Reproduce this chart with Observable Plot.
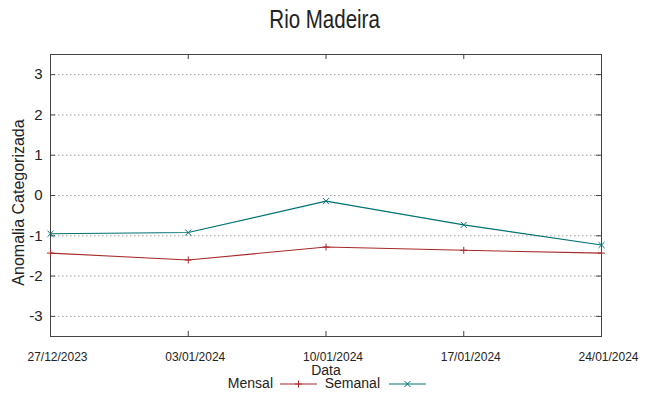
<!DOCTYPE html>
<html><head><meta charset="utf-8">
<script src="https://cdn.jsdelivr.net/npm/d3@7"></script>
<script src="https://cdn.jsdelivr.net/npm/@observablehq/plot@0.6"></script>
<style>
body{margin:0;background:#fff;}
#wrap{position:relative;width:649px;height:396px;font-family:"Liberation Sans",Arial,sans-serif;color:#222;overflow:hidden;}
#title{position:absolute;left:0;top:7px;width:649px;text-align:center;font-size:25px;line-height:25px;transform:scaleX(0.82);transform-origin:325px 0;}
#chart{position:absolute;left:0;top:40px;}
.leg{position:absolute;top:375px;font-size:14px;line-height:16px;white-space:nowrap;}
.sw{position:absolute;top:379px;}
</style></head>
<body><div id="wrap"><div id="title">Rio Madeira</div><div id="chart"></div></div>
<script>
const dates = ["2023-12-27","2024-01-03","2024-01-10","2024-01-17","2024-01-24"];
const mensal = [-1.43,-1.60,-1.28,-1.36,-1.43];
const semanal = [-0.95,-0.92,-0.14,-0.73,-1.23];
const yTicks = [-3,-2,-1,0,1,2,3];
const seriesNames = ["Mensal","Semanal"];
const seriesColors = ["#a82828","#007272"];
const seriesSymbols = ["plus","times"];

const dateObjs = dates.map(d => new Date(d + "T00:00:00Z"));
const fmt = d3.utcFormat("%d/%m/%Y");
const rows = [];
[mensal, semanal].forEach((vals, s) => vals.forEach((v, i) => rows.push({date: dateObjs[i], value: v, series: seriesNames[s]})));

const W = 649, H = 356, mL = 50, mR = 48, mT = 14, mB = 60;
const pw = W - mL - mR, ph = H - mT - mB;
const fg = "#444";

const marks = [
  Plot.ruleY(yTicks, {y: d => d, stroke: "#9a9a9a", strokeDasharray: "1.5,2.5"}),
  Plot.frame({stroke: fg}),
  Plot.tickX(dateObjs, {x: d => d, stroke: fg, insetTop: ph - 5}),
  Plot.tickX(dateObjs, {x: d => d, stroke: fg, insetBottom: ph - 5}),
  Plot.tickY(yTicks, {y: d => d, stroke: fg, insetLeft: pw - 5}),
  Plot.tickY(yTicks, {y: d => d, stroke: fg, insetRight: pw - 5}),
  Plot.axisX({ticks: dateObjs, tickFormat: fmt, tickSize: 0, tickPadding: 16, fontSize: 12, dx: 7, label: null}),
  Plot.axisY({ticks: yTicks, tickFormat: d => String(d), tickSize: 0, tickPadding: 8, fontSize: 15, label: null}),
  Plot.text(["Anomalia Categorizada"], {frameAnchor: "left", textAnchor: "middle", lineAnchor: "middle", rotate: -90, dx: -31.5, dy: 7, fontSize: 16, fill: "#222"}),
  Plot.text(["Data"], {frameAnchor: "bottom", textAnchor: "middle", lineAnchor: "middle", dy: 34, fontSize: 14, fill: "#222"})
];
seriesNames.forEach((name, s) => {
  const data = rows.filter(r => r.series === name);
  marks.push(Plot.line(data, {x: "date", y: "value", stroke: seriesColors[s], strokeWidth: 1.1}));
  marks.push(Plot.dot(data, {x: "date", y: "value", stroke: seriesColors[s], symbol: seriesSymbols[s], r: s === 0 ? 2.4 : 2.85, strokeWidth: 1}));
});

const chart = Plot.plot({
  width: W, height: H, marginLeft: mL, marginRight: mR, marginTop: mT, marginBottom: mB,
  style: {fontFamily: "'Liberation Sans', Arial, sans-serif", color: "#222", background: "white"},
  x: {type: "utc", domain: [dateObjs[0], dateObjs[dateObjs.length - 1]]},
  y: {domain: [-3.5, 3.5]},
  marks
});
document.getElementById("chart").appendChild(chart);

// legend
const wrap = document.getElementById("wrap");
const legendLayout = [{textRight: 273, lineX: 280}, {textRight: 380, lineX: 389}];
seriesNames.forEach((name, s) => {
  const t = document.createElement("div");
  t.className = "leg";
  t.style.right = (W - legendLayout[s].textRight) + "px";
  t.textContent = name;
  wrap.appendChild(t);
  const sym = d3.symbol(s === 0 ? d3.symbolPlus : d3.symbolTimes, s === 0 ? 18 : 25.5);
  const svg = d3.create("svg").attr("class", "sw").attr("width", 37).attr("height", 10)
    .style("left", legendLayout[s].lineX + "px");
  svg.append("line").attr("x1", 0).attr("x2", 37).attr("y1", 5).attr("y2", 5).attr("stroke", seriesColors[s]).attr("stroke-width", 1.1);
  svg.append("path").attr("d", sym()).attr("transform", "translate(18.5,5)").attr("fill", "none").attr("stroke", seriesColors[s]);
  wrap.appendChild(svg.node());
});
</script></body></html>
